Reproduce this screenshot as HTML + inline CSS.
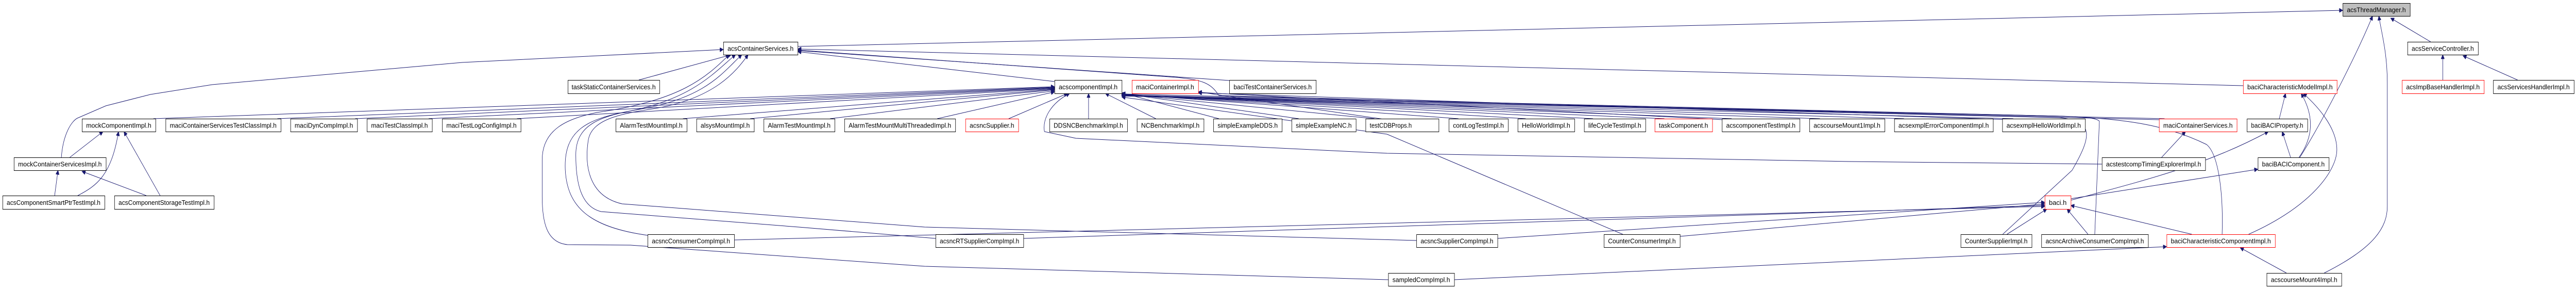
<!DOCTYPE html>
<html><head><meta charset="utf-8"><style>
html,body{margin:0;padding:0;background:#fff;width:100%;height:100%;overflow:hidden;}
svg{display:block;width:100vw;height:100vh;}
text{font-family:"Liberation Sans",sans-serif;font-size:13px;fill:#000;}
.e{fill:none;stroke:#191970;stroke-width:1;}
.b{fill:#fff;stroke:#000;stroke-width:1;}
.r{fill:#fff;stroke:#ff0000;stroke-width:1;}
</style></head><body>
<svg width="6129" height="560" viewBox="0 0 6129 560" preserveAspectRatio="none" xmlns="http://www.w3.org/2000/svg">
<defs><marker id="a" viewBox="0 0 10 10" refX="10" refY="5" markerWidth="10" markerHeight="8" orient="auto" markerUnits="userSpaceOnUse"><path d="M0,0 L10,5 L0,10 z" fill="#191970" stroke="#191970"/></marker></defs>
<g marker-end="url(#a)">
<path class="e" d="M1898,90 L5574,20"/>
<path class="e" d="M146,305 C150,260 170,235 184,229 L252,205 L358,183 L505,164 L1100,121 L1721,96"/>
<path class="e" d="M5337,166 L1898,95"/>
<path class="e" d="M2509,158 L1898,100"/>
<path class="e" d="M2925,156 L1898,98"/>
<path class="e" d="M5137,232 L4000,210 L2900,185 C2880,160 2860,155 2800,150 L1898,97"/>
<path class="e" d="M1520,155 L1740,106"/>
<path class="e" d="M1541,456 C1400,440 1350,400 1345,330 C1340,250 1400,230 1500,215 C1650,190 1700,140 1750,106"/>
<path class="e" d="M2226,462 L1900,440 L1430,410 C1380,400 1370,350 1370,300 C1370,240 1430,225 1520,212 C1680,190 1720,140 1765,106"/>
<path class="e" d="M3370,466 L2200,440 L1480,395 C1400,380 1390,320 1400,270 C1410,230 1480,220 1560,210 C1700,190 1750,140 1780,106"/>
<path class="e" d="M3303,542 L2200,516 L1500,475 L1350,474 C1300,470 1290,430 1290,380 L1290,310 C1290,250 1350,230 1420,218 C1620,195 1680,150 1735,106"/>
<path class="e" d="M3861,454 L3300,260 L2669,188"/>
<path class="e" d="M365,230 L2509,168"/>
<path class="e" d="M660,230 L2509,169"/>
<path class="e" d="M845,230 L2509,170"/>
<path class="e" d="M1020,230 L2509,171"/>
<path class="e" d="M1230,230 L2509,172"/>
<path class="e" d="M1625,230 L2509,173"/>
<path class="e" d="M1785,230 L2509,174"/>
<path class="e" d="M1975,230 L2509,176"/>
<path class="e" d="M2230,230 L2509,178"/>
<path class="e" d="M2400,230 L2540,181"/>
<path class="e" d="M2590,230 L2590,181"/>
<path class="e" d="M2750,230 L2630,181"/>
<path class="e" d="M2900,230 L2669,180"/>
<path class="e" d="M3090,230 L2669,181"/>
<path class="e" d="M3270,230 L2669,182"/>
<path class="e" d="M3470,230 L2669,182"/>
<path class="e" d="M3630,230 L2669,183"/>
<path class="e" d="M3790,230 L2669,183"/>
<path class="e" d="M3960,230 L2669,184"/>
<path class="e" d="M4120,230 L2669,184"/>
<path class="e" d="M4330,230 L2669,185"/>
<path class="e" d="M4530,230 L2669,185"/>
<path class="e" d="M4790,230 L2669,186"/>
<path class="e" d="M5150,230 L2669,186"/>
<path class="e" d="M3300,232 L2851,178"/>
<path class="e" d="M4100,232 L2851,179"/>
<path class="e" d="M4780,232 L2851,180"/>
<path class="e" d="M166,305 L245,255"/>
<path class="e" d="M130,379 L138,330"/>
<path class="e" d="M185,379 C230,360 265,340 282,255"/>
<path class="e" d="M348,379 L195,332"/>
<path class="e" d="M381,379 L295,255"/>
<path class="e" d="M4927,388 C5100,350 5250,320 5397,255"/>
<path class="e" d="M4927,385 L5372,328"/>
<path class="e" d="M5215,454 L4927,398"/>
<path class="e" d="M4775,454 L4870,405"/>
<path class="e" d="M4968,454 L4918,405"/>
<path class="e" d="M3563,462 L4865,392"/>
<path class="e" d="M3997,458 L4865,395"/>
<path class="e" d="M2435,462 L4865,398"/>
<path class="e" d="M1747,465 L4865,400"/>
<path class="e" d="M5143,305 L5200,255"/>
<path class="e" d="M5001,318 L4400,313 L3300,297 L2560,268 L2485,255 C2480,230 2500,200 2545,181"/>
<path class="e" d="M5423,230 L5438,181"/>
<path class="e" d="M5450,305 L5430,255"/>
<path class="e" d="M5470,305 C5500,270 5510,230 5475,181"/>
<path class="e" d="M5472,305 C5530,230 5610,100 5645,31"/>
<path class="e" d="M5350,454 C5500,400 5560,330 5560,290 C5560,250 5520,210 5480,181"/>
<path class="e" d="M5287,454 C5290,380 5280,300 5250,280 C5150,240 5050,230 4900,225 L2669,182"/>
<path class="e" d="M5440,529 L5330,480"/>
<path class="e" d="M5530,529 C5650,480 5680,440 5680,400 L5680,160 C5680,100 5665,60 5660,31"/>
<path class="e" d="M5783,81 L5688,35"/>
<path class="e" d="M5812,155 L5812,106"/>
<path class="e" d="M5990,155 L5860,108"/>
<path class="e" d="M3460,542 L5155,478"/>
<path class="e" d="M4765,454 L4930,330 C4980,260 4980,235 4900,228 L2669,185"/>
<path class="e" d="M4984,454 L4995,235 C4990,228 4950,226 4900,225 L2669,184"/>
</g>
<g>
<rect x="5574.5" y="6.5" width="160" height="25" fill="#bfbfbf" stroke="#000"/><text x="5584" y="23.5" textLength="140" lengthAdjust="spacingAndGlyphs">acsThreadManager.h</text>
<rect class="b" x="1721.5" y="81.5" width="177" height="25"/><text x="1731" y="98.5" textLength="157" lengthAdjust="spacingAndGlyphs">acsContainerServices.h</text>
<rect class="b" x="5728.5" y="81.5" width="168" height="25"/><text x="5738" y="98.5" textLength="148" lengthAdjust="spacingAndGlyphs">acsServiceController.h</text>
<rect class="b" x="1351.5" y="155.5" width="218" height="26"/><text x="1360" y="173" textLength="200" lengthAdjust="spacingAndGlyphs">taskStaticContainerServices.h</text>
<rect class="b" x="2509.5" y="155.5" width="160" height="26"/><text x="2519" y="173" textLength="140" lengthAdjust="spacingAndGlyphs">acscomponentImpl.h</text>
<rect class="r" x="2693.5" y="155.5" width="158" height="26"/><text x="2703" y="173" textLength="138" lengthAdjust="spacingAndGlyphs">maciContainerImpl.h</text>
<rect class="b" x="2925.5" y="155.5" width="206" height="26"/><text x="2935" y="173" textLength="186" lengthAdjust="spacingAndGlyphs">baciTestContainerServices.h</text>
<rect class="r" x="5337.5" y="155.5" width="223" height="26"/><text x="5347" y="173" textLength="203" lengthAdjust="spacingAndGlyphs">baciCharacteristicModelImpl.h</text>
<rect class="r" x="5715.5" y="155.5" width="195" height="26"/><text x="5725" y="173" textLength="175" lengthAdjust="spacingAndGlyphs">acsImpBaseHandlerImpl.h</text>
<rect class="b" x="5932.5" y="155.5" width="192" height="26"/><text x="5942" y="173" textLength="172" lengthAdjust="spacingAndGlyphs">acsServicesHandlerImpl.h</text>

<rect class="b" x="195.5" y="230.5" width="175" height="25"/><text x="205" y="247.5" textLength="155" lengthAdjust="spacingAndGlyphs">mockComponentImpl.h</text>
<rect class="b" x="394.5" y="230.5" width="274" height="25"/><text x="404" y="247.5" textLength="254" lengthAdjust="spacingAndGlyphs">maciContainerServicesTestClassImpl.h</text>
<rect class="b" x="691.5" y="230.5" width="159" height="25"/><text x="701" y="247.5" textLength="139" lengthAdjust="spacingAndGlyphs">maciDynCompImpl.h</text>
<rect class="b" x="873.5" y="230.5" width="155" height="25"/><text x="883" y="247.5" textLength="135" lengthAdjust="spacingAndGlyphs">maciTestClassImpl.h</text>
<rect class="b" x="1052.5" y="230.5" width="187" height="25"/><text x="1062" y="247.5" textLength="167" lengthAdjust="spacingAndGlyphs">maciTestLogConfigImpl.h</text>
<rect class="b" x="1465.5" y="230.5" width="169" height="25"/><text x="1475" y="247.5" textLength="149" lengthAdjust="spacingAndGlyphs">AlarmTestMountImpl.h</text>
<rect class="b" x="1657.5" y="230.5" width="137" height="25"/><text x="1667" y="247.5" textLength="117" lengthAdjust="spacingAndGlyphs">alsysMountImpl.h</text>
<rect class="b" x="1817.5" y="230.5" width="169" height="25"/><text x="1827" y="247.5" textLength="149" lengthAdjust="spacingAndGlyphs">AlarmTestMountImpl.h</text>
<rect class="b" x="2009.5" y="230.5" width="264" height="25"/><text x="2019" y="247.5" textLength="244" lengthAdjust="spacingAndGlyphs">AlarmTestMountMultiThreadedImpl.h</text>
<rect class="r" x="2297.5" y="230.5" width="126" height="25"/><text x="2307" y="247.5" textLength="106" lengthAdjust="spacingAndGlyphs">acsncSupplier.h</text>
<rect class="b" x="2497.5" y="230.5" width="185" height="25"/><text x="2507" y="247.5" textLength="165" lengthAdjust="spacingAndGlyphs">DDSNCBenchmarkImpl.h</text>
<rect class="b" x="2705.5" y="230.5" width="159" height="25"/><text x="2715" y="247.5" textLength="139" lengthAdjust="spacingAndGlyphs">NCBenchmarkImpl.h</text>
<rect class="b" x="2887.5" y="230.5" width="163" height="25"/><text x="2897" y="247.5" textLength="143" lengthAdjust="spacingAndGlyphs">simpleExampleDDS.h</text>
<rect class="b" x="3073.5" y="230.5" width="153" height="25"/><text x="3083" y="247.5" textLength="133" lengthAdjust="spacingAndGlyphs">simpleExampleNC.h</text>
<rect class="b" x="3249.5" y="230.5" width="174" height="25"/><text x="3259" y="247.5" textLength="100" lengthAdjust="spacingAndGlyphs">testCDBProps.h</text>
<rect class="b" x="3447.5" y="230.5" width="141" height="25"/><text x="3457" y="247.5" textLength="121" lengthAdjust="spacingAndGlyphs">contLogTestImpl.h</text>
<rect class="b" x="3611.5" y="230.5" width="135" height="25"/><text x="3621" y="247.5" textLength="115" lengthAdjust="spacingAndGlyphs">HelloWorldImpl.h</text>
<rect class="b" x="3769.5" y="230.5" width="146" height="25"/><text x="3779" y="247.5" textLength="126" lengthAdjust="spacingAndGlyphs">lifeCycleTestImpl.h</text>
<rect class="r" x="3937.5" y="230.5" width="137" height="25"/><text x="3947" y="247.5" textLength="117" lengthAdjust="spacingAndGlyphs">taskComponent.h</text>
<rect class="b" x="4097.5" y="230.5" width="185" height="25"/><text x="4107" y="247.5" textLength="165" lengthAdjust="spacingAndGlyphs">acscomponentTestImpl.h</text>
<rect class="b" x="4305.5" y="230.5" width="179" height="25"/><text x="4315" y="247.5" textLength="159" lengthAdjust="spacingAndGlyphs">acscourseMount1Impl.h</text>
<rect class="b" x="4507.5" y="230.5" width="235" height="25"/><text x="4517" y="247.5" textLength="215" lengthAdjust="spacingAndGlyphs">acsexmplErrorComponentImpl.h</text>
<rect class="b" x="4764.5" y="230.5" width="197" height="25"/><text x="4774" y="247.5" textLength="177" lengthAdjust="spacingAndGlyphs">acsexmplHelloWorldImpl.h</text>
<rect class="r" x="5137.5" y="230.5" width="185" height="25"/><text x="5147" y="247.5" textLength="165" lengthAdjust="spacingAndGlyphs">maciContainerServices.h</text>
<rect class="b" x="5346.5" y="230.5" width="144" height="25"/><text x="5356" y="247.5" textLength="124" lengthAdjust="spacingAndGlyphs">baciBACIProperty.h</text>

<rect class="b" x="33.5" y="305.5" width="219" height="25"/><text x="43" y="322.5" textLength="199" lengthAdjust="spacingAndGlyphs">mockContainerServicesImpl.h</text>
<rect class="b" x="5001.5" y="305.5" width="246" height="25"/><text x="5011" y="322.5" textLength="226" lengthAdjust="spacingAndGlyphs">acstestcompTimingExplorerImpl.h</text>
<rect class="b" x="5372.5" y="305.5" width="169" height="25"/><text x="5382" y="322.5" textLength="149" lengthAdjust="spacingAndGlyphs">baciBACIComponent.h</text>

<rect class="b" x="6.5" y="379.5" width="243" height="26"/><text x="16" y="397" textLength="223" lengthAdjust="spacingAndGlyphs">acsComponentSmartPtrTestImpl.h</text>
<rect class="b" x="272.5" y="379.5" width="237" height="26"/><text x="282" y="397" textLength="217" lengthAdjust="spacingAndGlyphs">acsComponentStorageTestImpl.h</text>
<rect class="r" x="4865.5" y="379.5" width="62" height="26"/><text x="4875" y="397" textLength="42" lengthAdjust="spacingAndGlyphs">baci.h</text>

<rect class="b" x="1541.5" y="454.5" width="206" height="25"/><text x="1551" y="471.5" textLength="186" lengthAdjust="spacingAndGlyphs">acsncConsumerCompImpl.h</text>
<rect class="b" x="2226.5" y="454.5" width="209" height="25"/><text x="2236" y="471.5" textLength="189" lengthAdjust="spacingAndGlyphs">acsncRTSupplierCompImpl.h</text>
<rect class="b" x="3370.5" y="454.5" width="193" height="25"/><text x="3380" y="471.5" textLength="173" lengthAdjust="spacingAndGlyphs">acsncSupplierCompImpl.h</text>
<rect class="b" x="3816.5" y="454.5" width="181" height="25"/><text x="3826" y="471.5" textLength="161" lengthAdjust="spacingAndGlyphs">CounterConsumerImpl.h</text>
<rect class="b" x="4665.5" y="454.5" width="169" height="25"/><text x="4675" y="471.5" textLength="149" lengthAdjust="spacingAndGlyphs">CounterSupplierImpl.h</text>
<rect class="b" x="4857.5" y="454.5" width="254" height="25"/><text x="4867" y="471.5" textLength="234" lengthAdjust="spacingAndGlyphs">acsncArchiveConsumerCompImpl.h</text>
<rect class="r" x="5155.5" y="454.5" width="258" height="25"/><text x="5165" y="471.5" textLength="238" lengthAdjust="spacingAndGlyphs">baciCharacteristicComponentImpl.h</text>

<rect class="b" x="3303.5" y="529.5" width="157" height="25"/><text x="3313" y="546.5" textLength="137" lengthAdjust="spacingAndGlyphs">sampledCompImpl.h</text>
<rect class="b" x="5393.5" y="529.5" width="178" height="25"/><text x="5403" y="546.5" textLength="158" lengthAdjust="spacingAndGlyphs">acscourseMount4Impl.h</text>
</g>
</svg>
</body></html>
